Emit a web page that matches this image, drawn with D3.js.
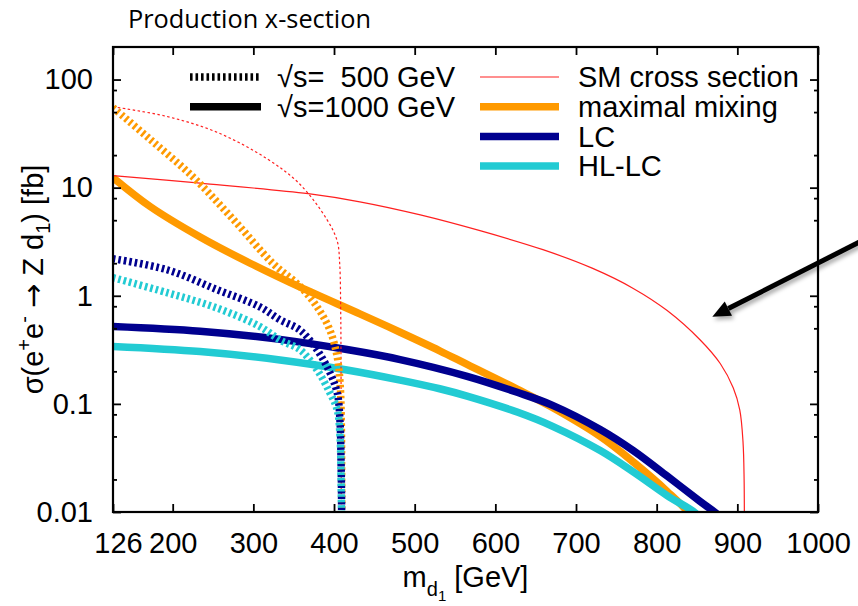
<!DOCTYPE html>
<html>
<head>
<meta charset="utf-8">
<script src="https://cdn.jsdelivr.net/npm/d3@7"></script>
<style>
  html, body { margin: 0; padding: 0; background: #fff; }
  svg { display: block; }
  text { font-family: "Liberation Sans", Arial, sans-serif; fill: #000; }
</style>
</head>
<body>
<svg id="chart" width="858" height="606"></svg>
<script>
// ---- data: masses m_d1 [GeV] and cross sections [fb] ----
const smMass500      = [126, 193, 255, 317, 358, 391, 404, 407, 408.3, 408.7, 409];
const smXsec500      = [56, 45.5, 32.5, 18.5, 10.7, 5.1, 3.2, 2.0, 0.7, 0.2, 0.003];
const smMass1000     = [126, 234, 368, 432, 507, 581, 659, 720, 771, 813, 854, 879, 895, 903, 907, 908.4, 908.7];
const smXsec1000     = [12.9, 11.0, 8.8, 7.4, 5.6, 4.0, 2.67, 1.8, 1.17, 0.73, 0.39, 0.235, 0.14, 0.088, 0.045, 0.02, 0.004];

const maxMass500     = [126, 172, 225, 275, 324, 358, 379, 395, 404, 407.5, 409, 409.5, 409.8];
const maxXsec500     = [55, 28, 12.6, 5.1, 2.0, 1.22, 0.79, 0.48, 0.27, 0.156, 0.07, 0.02, 0.003];
const maxMass1000    = [126, 172, 234, 296, 358, 432, 482, 531, 565, 627, 668, 730, 771, 813, 841, 850];
const maxXsec1000    = [12.4, 6.7, 3.5, 2.0, 1.2, 0.68, 0.46, 0.31, 0.232, 0.137, 0.095, 0.050, 0.029, 0.0155, 0.0095, 0.007];

const lcMass500      = [126, 193, 255, 308, 333, 358, 379, 395, 404, 407.5, 408.7, 409.3, 409.7];
const lcXsec500      = [2.2, 1.74, 1.14, 0.79, 0.60, 0.48, 0.316, 0.194, 0.126, 0.067, 0.03, 0.015, 0.003];
const lcMass1000     = [126, 234, 333, 416, 482, 565, 627, 671, 730, 771, 813, 854, 876, 885];
const lcXsec1000     = [0.52, 0.47, 0.395, 0.318, 0.257, 0.18, 0.128, 0.097, 0.058, 0.037, 0.0215, 0.0125, 0.0094, 0.0078];

const hlMass500      = [126, 193, 255, 308, 333, 358, 379, 395, 404, 407.5, 408.7, 409.3, 409.7];
const hlXsec500      = [1.47, 1.07, 0.77, 0.52, 0.39, 0.316, 0.206, 0.126, 0.088, 0.049, 0.02, 0.01, 0.003];
const hlMass1000     = [126, 234, 333, 416, 482, 531, 565, 627, 671, 730, 771, 813, 850, 860];
const hlXsec1000     = [0.34, 0.305, 0.255, 0.206, 0.166, 0.138, 0.118, 0.084, 0.062, 0.037, 0.0235, 0.0142, 0.0095, 0.0075];

// ---- axis ticks ----
const xTickValues  = [126, 200, 300, 400, 500, 600, 700, 800, 900, 1000];
const yTickValues  = [0.01, 0.1, 1, 10, 100];
const yTickLabels  = ["0.01", "0.1", "1", "10", "100"];
const yMinorValues = [0.02, 0.05, 0.08, 0.2, 0.5, 0.8, 2, 5, 8, 20, 50, 80];

// ---- legend entries ----
const energyLabels = ["\u221As=  500 GeV", "\u221As=1000 GeV"];
const modelLabels  = ["SM cross section", "maximal mixing", "LC", "HL-LC"];
const modelColors  = ["#ff2020", "#ff9a00", "#00008f", "#22cbd3"];

// arrow annotation (data coordinates: tail, tip)
const arrowMass = [1052, 869];
const arrowXsec = [3.16, 0.64];

// ---- layout ----
const svg = d3.select("#chart");
const plotLeft = 113, plotRight = 818, plotTop = 47, plotBottom = 512;
const fontSize = 29;

const x = d3.scaleLinear().domain([126, 1000]).range([plotLeft, plotRight]);
const y = d3.scaleLog().domain([0.01, 200]).range([plotBottom, plotTop]);

const defs = svg.append("defs");
defs.append("clipPath").attr("id", "plotClip")
  .append("rect").attr("x", plotLeft).attr("y", plotTop)
  .attr("width", plotRight - plotLeft).attr("height", plotBottom - plotTop);

const shadow = defs.append("filter").attr("id", "shadow")
  .attr("x", "-30%").attr("y", "-30%").attr("width", "160%").attr("height", "160%");
shadow.append("feDropShadow").attr("dx", 2).attr("dy", 3)
  .attr("stdDeviation", 2).attr("flood-color", "#000").attr("flood-opacity", 0.35);

// ---- title ----
svg.append("text")
  .attr("x", 128).attr("y", 28)
  .attr("textLength", 243)
  .attr("lengthAdjust", "spacingAndGlyphs")
  .style("font-family", "'Open Sans', sans-serif")
  .style("font-size", "26px")
  .text("Production x-section");

// ---- curves ----
const series = [
  { mass: maxMass1000, xsec: maxXsec1000, color: modelColors[1], width: 7.5, dash: null },
  { mass: smMass1000,  xsec: smXsec1000,  color: modelColors[0], width: 1.2, dash: null },
  { mass: lcMass1000,  xsec: lcXsec1000,  color: modelColors[2], width: 7.5, dash: null },
  { mass: hlMass1000,  xsec: hlXsec1000,  color: modelColors[3], width: 7.5, dash: null },
  { mass: smMass500,   xsec: smXsec500,   color: modelColors[0], width: 1.2, dash: "2.5,2.5" },
  { mass: maxMass500,  xsec: maxXsec500,  color: modelColors[1], width: 7.5, dash: "2.6,2.9" },
  { mass: lcMass500,   xsec: lcXsec500,   color: modelColors[2], width: 7.5, dash: "2.6,2.9" },
  { mass: hlMass500,   xsec: hlXsec500,   color: modelColors[3], width: 7.5, dash: "2.6,2.9" }
];

const line = d3.line()
  .x(d => x(d[0]))
  .y(d => y(d[1]))
  .curve(d3.curveCatmullRom.alpha(0.5));

const curves = svg.append("g").attr("clip-path", "url(#plotClip)");
series.forEach(s => {
  curves.append("path")
    .datum(d3.zip(s.mass, s.xsec))
    .attr("d", line)
    .attr("fill", "none")
    .attr("stroke", s.color)
    .attr("stroke-width", s.width)
    .attr("stroke-dasharray", s.dash);
});

// ---- axes (ticks point inward on all four sides) ----
const fmtY = d => yTickLabels[yTickValues.indexOf(d)];

const xAxis = svg.append("g").attr("transform", `translate(0,${plotBottom})`)
  .call(d3.axisBottom(x).tickValues(xTickValues).tickSizeInner(-8).tickSizeOuter(0)
        .tickPadding(20).tickFormat(d3.format("d")));
xAxis.selectAll("text").filter(d => d === 126).attr("dx", 5);

svg.append("g").attr("transform", `translate(0,${plotTop})`)
  .call(d3.axisTop(x).tickValues(xTickValues).tickSizeInner(-8).tickSizeOuter(0).tickFormat(""));

svg.append("g").attr("transform", `translate(${plotLeft},0)`)
  .call(d3.axisLeft(y).tickValues(yTickValues).tickSizeInner(-8).tickSizeOuter(0)
        .tickPadding(20).tickFormat(fmtY));
svg.append("g").attr("transform", `translate(${plotLeft},0)`)
  .call(d3.axisLeft(y).tickValues(yMinorValues).tickSizeInner(-4).tickSizeOuter(0).tickFormat(""));
svg.append("g").attr("transform", `translate(${plotRight},0)`)
  .call(d3.axisRight(y).tickValues(yTickValues).tickSizeInner(-8).tickSizeOuter(0).tickFormat(""));
svg.append("g").attr("transform", `translate(${plotRight},0)`)
  .call(d3.axisRight(y).tickValues(yMinorValues).tickSizeInner(-4).tickSizeOuter(0).tickFormat(""));

svg.selectAll(".domain").remove();
svg.selectAll(".tick line").attr("stroke", "#000").attr("stroke-width", 1.8);
svg.selectAll(".tick text")
  .style("font-family", "'Liberation Sans', Arial, sans-serif")
  .style("font-size", fontSize + "px")
  .attr("fill", "#000");

// frame
svg.append("rect")
  .attr("x", plotLeft).attr("y", plotTop)
  .attr("width", plotRight - plotLeft).attr("height", plotBottom - plotTop)
  .attr("fill", "none").attr("stroke", "#000").attr("stroke-width", 2.2);

// ---- axis titles ----
const xTitle = svg.append("text")
  .attr("x", (plotLeft + plotRight) / 2).attr("y", 587)
  .attr("text-anchor", "middle")
  .style("font-size", fontSize + "px");
xTitle.append("tspan").text("m");
xTitle.append("tspan").attr("dy", 9).style("font-size", "20px").text("d");
xTitle.append("tspan").attr("dy", 5).style("font-size", "15px").text("1");
xTitle.append("tspan").attr("dy", -14).text(" [GeV]");

const yTitle = svg.append("text")
  .attr("transform", `translate(43,${(plotTop + plotBottom) / 2}) rotate(-90)`)
  .attr("text-anchor", "middle")
  .style("font-size", fontSize + "px");
yTitle.append("tspan").text("\u03C3(e");
yTitle.append("tspan").attr("dy", -12).style("font-size", "20px").text("+");
yTitle.append("tspan").attr("dy", 12).text("e");
yTitle.append("tspan").attr("dy", -12).style("font-size", "20px").text("-");
yTitle.append("tspan").attr("dy", 12).text(" ");
yTitle.append("tspan").style("font-family", "'DejaVu Sans', sans-serif").text("\u2192");
yTitle.append("tspan").text(" Z d");
yTitle.append("tspan").attr("dy", 7).style("font-size", "20px").text("1");
yTitle.append("tspan").attr("dy", -7).text(") [fb]");

// ---- legend ----
const rowY = i => 77 + i * 29.7;
const legend = svg.append("g");

// energy column (line style)
energyLabels.forEach((label, i) => {
  legend.append("line")
    .attr("x1", 190).attr("x2", 261)
    .attr("y1", rowY(i)).attr("y2", rowY(i))
    .attr("stroke", "#000").attr("stroke-width", 7.5)
    .attr("stroke-dasharray", i === 0 ? "2.6,2.9" : null);
  legend.append("text")
    .attr("x", 455).attr("y", rowY(i)).attr("dy", "0.35em")
    .attr("text-anchor", "end")
    .style("font-size", fontSize + "px")
    .style("white-space", "pre")
    .text(label);
});

// model column (colour)
modelLabels.forEach((label, i) => {
  legend.append("line")
    .attr("x1", 480).attr("x2", 559)
    .attr("y1", rowY(i)).attr("y2", rowY(i))
    .attr("stroke", modelColors[i])
    .attr("stroke-width", i === 0 ? 1.2 : 7.5);
  legend.append("text")
    .attr("x", 578).attr("y", rowY(i)).attr("dy", "0.35em")
    .style("font-size", fontSize + "px")
    .text(label);
});

// ---- arrow annotation ----
const ax0 = x(arrowMass[0]), ay0 = y(arrowXsec[0]);
const ax1 = x(arrowMass[1]), ay1 = y(arrowXsec[1]);
const ang = Math.atan2(ay1 - ay0, ax1 - ax0);
const headLen = 18, headHalf = 8;
const bx = ax1 - headLen * Math.cos(ang), by = ay1 - headLen * Math.sin(ang);
const arrow = svg.append("g").attr("filter", "url(#shadow)");
arrow.append("line")
  .attr("x1", ax0).attr("y1", ay0).attr("x2", bx).attr("y2", by)
  .attr("stroke", "#000").attr("stroke-width", 5);
arrow.append("path")
  .attr("d", d3.line()([
    [ax1, ay1],
    [bx + headHalf * Math.sin(ang), by - headHalf * Math.cos(ang)],
    [bx - headHalf * Math.sin(ang), by + headHalf * Math.cos(ang)]
  ]) + "Z")
  .attr("fill", "#000");
</script>
</body>
</html>
